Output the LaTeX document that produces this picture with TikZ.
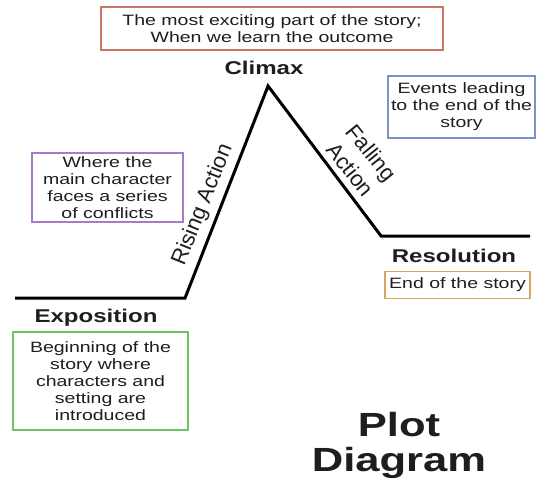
\documentclass[tikz,border=0pt]{standalone}
\usepackage{fontspec}
\setmainfont{Liberation Sans}
\definecolor{txt}{HTML}{1E1E1E}
\definecolor{boxred}{HTML}{CC7766}
\definecolor{boxpurple}{HTML}{A77BC9}
\definecolor{boxblue}{HTML}{7B93C4}
\definecolor{boxorange}{HTML}{D4A760}
\definecolor{boxgreen}{HTML}{6CC462}
\begin{document}
\begin{tikzpicture}[
  xscale=1.3, x={(0.76923pt,0)}, y={(0,-1pt)},
  every node/.style={transform shape, text=txt, inner sep=1pt},
  bodytext/.style={font=\fontsize{15}{17}\selectfont, align=center},
  infobox/.style={bodytext, draw=#1, line width=1.8pt},
  label/.style={font=\fontsize{18.5}{22}\selectfont\bfseries},
  slant/.style={font=\fontsize{22}{27}\selectfont, align=center},
  plotline/.style={line width=3pt, black, line join=miter}
]
\useasboundingbox[fill=white] (0,0) rectangle (538,480);

% plot line
\coordinate (start) at (15,298);
\coordinate (risebase) at (185,298);
\coordinate (peak) at (268,86);
\coordinate (fallbase) at (381,236);
\coordinate (finish) at (530,236);
\draw[plotline] (start) -- (risebase) -- (peak) -- (fallbase) -- (finish);

% boxes
\node[infobox=boxred, minimum width=263.1pt, minimum height=43pt] (climaxbox) at (272,28.5)
  {The most exciting part of the story;\\When we learn the outcome};
\node[infobox=boxpurple, minimum width=116.2pt, minimum height=69pt] (risebox) at (107.5,187.5)
  {Where the\\main character\\faces a series\\of conflicts};
\node[infobox=boxblue, minimum width=113.1pt, minimum height=62pt] (fallbox) at (461.5,107)
  {Events leading\\to the end of the\\story};
\node[infobox=boxorange, minimum width=111.5pt, minimum height=27pt] (resbox) at (457.5,285)
  {End of the story};
\node[infobox=boxgreen, minimum width=134.6pt, minimum height=98pt] (expbox) at (100.5,381)
  {Beginning of the\\story where\\characters and\\setting are\\introduced};

% labels
\node[label] (climax) at (264,68) {Climax};
\node[label] (resolution) at (454,256) {Resolution};
\node[label] (exposition) at (96,318) {Exposition};

% rotated labels (not stretched)
\begin{scope}[shift={(203,205)}, xscale=0.76923]
  \node[slant, rotate=68] (rising) at (0,0) {Rising Action};
\end{scope}
\begin{scope}[shift={(361,161)}, xscale=0.76923]
  \node[slant, rotate=-51] (falling) at (0,0) {Falling\\Action};
\end{scope}

\node[font=\fontsize{33.5}{35}\selectfont\bfseries, align=center] (title) at (399,445) {Plot\\Diagram};
\end{tikzpicture}
\end{document}
